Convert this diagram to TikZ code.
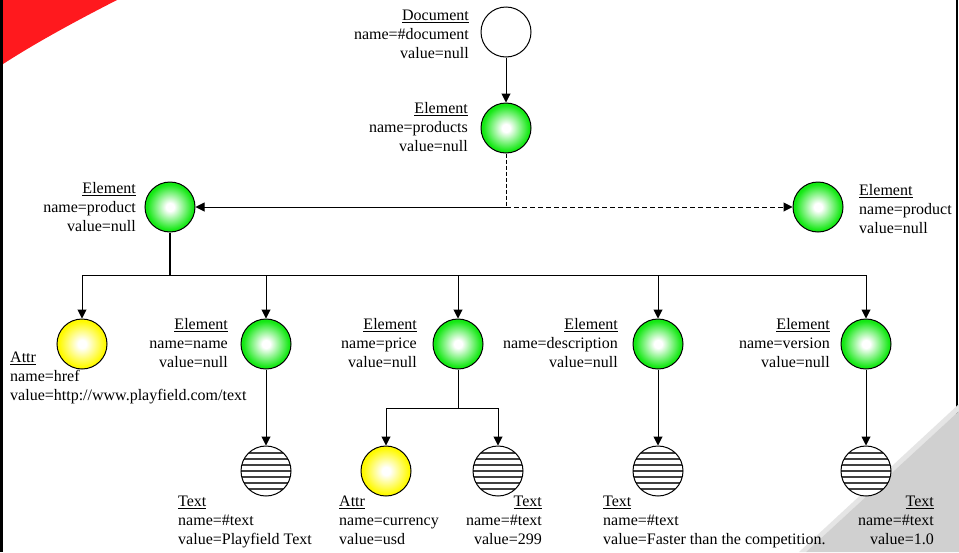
\documentclass[tikz,border=0pt]{standalone}
\usepackage{fontspec}
\setmainfont{Liberation Serif}
\usetikzlibrary{arrows.meta}

\definecolor{ballgreen}{RGB}{20,232,20}
\definecolor{ballyellow}{RGB}{255,250,0}
\definecolor{cornerred}{RGB}{255,25,30}
\definecolor{cornergray}{RGB}{208,208,208}

% radial fills: white highlight in the middle, full colour towards the rim
\pgfdeclareradialshading{greenball}{\pgfpoint{0bp}{0bp}}{color(0bp)=(white); color(4bp)=(white); color(23bp)=(ballgreen); color(25bp)=(ballgreen); color(50bp)=(ballgreen)}
\pgfdeclareradialshading{yellowball}{\pgfpoint{0bp}{0bp}}{color(0bp)=(white); color(4bp)=(white); color(23bp)=(ballyellow); color(25bp)=(ballyellow); color(50bp)=(ballyellow)}

\tikzset{
  nodecirc/.style={circle, draw, line width=1pt, minimum size=50pt, inner sep=0pt},
  docnode/.style={nodecirc, fill=white},
  elemnode/.style={nodecirc, shade, shading=greenball},
  attrnode/.style={nodecirc, shade, shading=yellowball},
  textnode/.style={nodecirc, fill=white,
    path picture={\foreach \k in {-18,-12,...,18}{
      \draw[line width=1.7pt, black!75]
        ([yshift=\k pt]path picture bounding box.west) --
        ([yshift=\k pt]path picture bounding box.east);}}},
  info/.style={font=\fontsize{16}{19}\selectfont, inner sep=0pt},
  infoR/.style={info, align=right, anchor=north east},
  infoL/.style={info, align=left, anchor=north west},
  wire/.style={line width=1pt},
  link/.style={wire, -{Triangle[length=9pt,width=9pt]}},
  dashwire/.style={dash pattern=on 5pt off 3pt},
}

\begin{document}
\begin{tikzpicture}[x=1pt, y=-1pt]
  \useasboundingbox (0,0) rectangle (959,552);
  \fill[white] (0,0) rectangle (959,552);

  % page frame and corner decorations
  \fill[cornerred] (0,0) -- (117,0) .. controls (72,23) and (32,45) .. (0,66) -- cycle;
  \fill[black] (0,0) rectangle (3,552);
  \draw[line width=1.2pt] (957,0) -- (957,552);
  \fill[cornergray!55] (799,552) -- (959,404) -- (959,411) -- (806,552) -- cycle;
  \fill[cornergray] (806,552) -- (959,411) -- (959,552) -- cycle;

  % tree nodes
  \node[docnode]  (doc)      at (506,32)  {};
  \node[elemnode] (products) at (506,128) {};
  \node[elemnode] (product)  at (170,207) {};
  \node[elemnode] (product2) at (818,207) {};
  \node[attrnode] (href)     at (82,344)  {};
  \node[elemnode] (ename)    at (266,344) {};
  \node[elemnode] (price)    at (458,344) {};
  \node[elemnode] (desc)     at (658,344) {};
  \node[elemnode] (version)  at (866,344) {};
  \node[textnode] (tname)    at (266,471) {};
  \node[attrnode] (currency) at (386,471) {};
  \node[textnode] (tprice)   at (498,471) {};
  \node[textnode] (tdesc)    at (658,471) {};
  \node[textnode] (tversion) at (866,471) {};

  % labels
  \node[infoR] (ldoc)      at (469,10)    {\underline{Document}\\name=\#document\\value=null};
  \node[infoR] (lproducts) at (468,102)   {\underline{Element}\\name=products\\value=null};
  \node[infoR] (lproduct)  at (136,182.5) {\underline{Element}\\name=product\\value=null};
  \node[infoL] (lproduct2) at (859,184)   {\underline{Element}\\name=product\\value=null};
  \node[infoL] (lhref)     at (10,352)    {\underline{Attr}\\name=href\\value=http://www.playfield.com/text};
  \node[infoR] (lname)     at (228,318.5) {\underline{Element}\\name=name\\value=null};
  \node[infoR] (lprice)    at (417,318.5) {\underline{Element}\\name=price\\value=null};
  \node[infoR] (ldesc)     at (618,318.5) {\underline{Element}\\name=description\\value=null};
  \node[infoR] (lversion)  at (830,318.5) {\underline{Element}\\name=version\\value=null};
  \node[infoL] (ltname)    at (178,496)   {\underline{Text}\\name=\#text\\value=Playfield Text};
  \node[infoL] (lcur)      at (339,496)   {\underline{Attr}\\name=currency\\value=usd};
  \node[infoR] (ltprice)   at (542,496)   {\underline{Text}\\name=\#text\\value=299};
  \node[infoL] (ltdesc)    at (603,496)   {\underline{Text}\\name=\#text\\value=Faster than the competition.};
  \node[infoR] (ltver)     at (934,496)   {\underline{Text}\\name=\#text\\value=1.0};

  % connectors
  \draw[link] (doc) -- (products);

  \coordinate (fork) at (products |- product);
  \draw[wire, dash pattern=on 4pt off 2pt] (products) -- (fork);
  \draw[link] (fork) -- (product);
  \draw[link, dashwire] (fork) -- (product2);

  \coordinate (bus) at (170,275);
  \draw[line width=1.6pt] (product) -- (bus);
  \draw[wire] (href |- bus) -- (version |- bus);
  \foreach \n in {href, ename, price, desc, version}
    \draw[link] (\n |- bus) -- (\n);

  \coordinate (pbus) at (458,408);
  \draw[wire] (price) -- (pbus);
  \draw[wire] (currency |- pbus) -- (tprice |- pbus);
  \draw[link] (currency |- pbus) -- (currency);
  \draw[link] (tprice |- pbus) -- (tprice);

  \draw[link] (ename) -- (tname);
  \draw[link] (desc) -- (tdesc);
  \draw[link] (version) -- (tversion);
\end{tikzpicture}
\end{document}
